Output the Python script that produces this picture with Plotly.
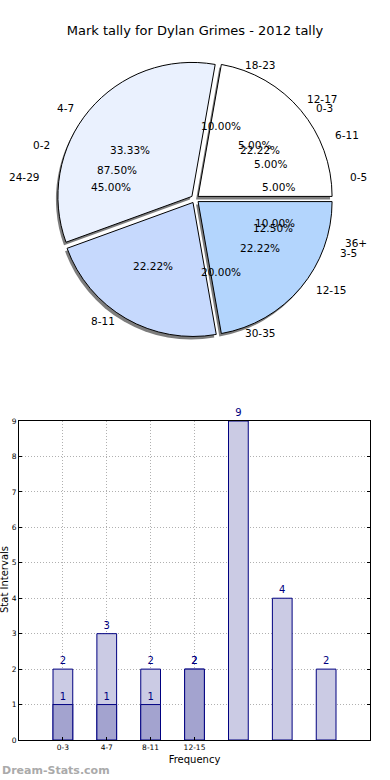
import math
import plotly.graph_objects as go

# ---------------- data ----------------
title_text = "Mark tally for Dylan Grimes - 2012 tally"

pie_a_labels = ["0-3", "4-7", "8-11", "12-15"]
pie_a_values = [2, 3, 2, 2]
pie_a_colors = ["#ffffff", "#eaf1fe", "#c6d9fd", "#b3d5fd"]

pie_b_labels = ["0-2", "3-5"]
pie_b_values = [7, 1]

pie_c_labels = ["0-5", "6-11", "12-17", "18-23", "24-29", "30-35", "36+"]
pie_c_values = [1, 1, 1, 2, 9, 4, 2]

bar_light_values = [2, 3, 2, 2, 9, 4, 2]
bar_dark_values = [1, 1, 1, 2]
bar_tick_labels = ["0-3", "4-7", "8-11", "12-15"]

# ---------------- geometry helpers (pixels in the 390x780 window) ----------------
W, H = 390, 780
FONT = "DejaVu Sans"
cx, cy = 195, 199          # pie centre (px)
rx, ry = 141, 128          # label ellipse radii (px)
pull = 0.03
R = 134
half = R * (1 + pull)


def px(x):
    return x / W


def py(y):
    return 1 - y / H


def mid_angles(values):
    tot = float(sum(values))
    out, acc = [], 0.0
    for v in values:
        a0 = acc / tot * 360
        acc += v
        a1 = acc / tot * 360
        out.append((a0 + a1) / 2)
    return out


def start_rotation(values):
    # plotly counter-clockwise pies end their first slice at `rotation`;
    # make the first slice start at 3 o'clock like matplotlib
    return 90 - 360.0 * values[0] / sum(values)


fig = go.Figure()

pie_dom = dict(x=[px(cx - half), px(cx + half)], y=[py(cy + half), py(cy - half)])
shadow_dom = dict(x=[px(cx - half - 2), px(cx + half - 2)],
                  y=[py(cy + half + 3), py(cy - half + 3)])

# shadow
fig.add_trace(go.Pie(
    labels=pie_a_labels, values=pie_a_values, sort=False, direction="counterclockwise",
    rotation=start_rotation(pie_a_values), pull=[pull] * len(pie_a_values), domain=shadow_dom,
    marker=dict(colors=["rgba(70,70,70,0.7)"] * len(pie_a_values), line=dict(width=0)),
    textinfo="none", hoverinfo="skip", showlegend=False))

# under-lying pies (hidden behind the top pie)
for labs, vals in [(pie_b_labels, pie_b_values), (pie_c_labels, pie_c_values)]:
    fig.add_trace(go.Pie(
        labels=labs, values=vals, sort=False, direction="counterclockwise",
        rotation=start_rotation(vals), domain=pie_dom,
        marker=dict(colors=["rgba(255,255,255,0)"] * len(vals), line=dict(width=0)),
        textinfo="none", showlegend=False))

# top pie
fig.add_trace(go.Pie(
    labels=pie_a_labels, values=pie_a_values, sort=False, direction="counterclockwise",
    rotation=start_rotation(pie_a_values), pull=[pull] * len(pie_a_values), domain=pie_dom,
    marker=dict(colors=pie_a_colors, line=dict(color="#000000", width=1)),
    textinfo="none", showlegend=False))

annotations = []
for labs, vals in [(pie_a_labels, pie_a_values), (pie_b_labels, pie_b_values),
                   (pie_c_labels, pie_c_values)]:
    tot = float(sum(vals))
    for lab, v, m in zip(labs, vals, mid_angles(vals)):
        c, s = math.cos(math.radians(m)), math.sin(math.radians(m))
        lx = cx + 1.1 * rx * c
        ly = cy - 1.1 * ry * s
        annotations.append(dict(
            x=px(lx), y=py(ly), xref="paper", yref="paper", text=lab, showarrow=False,
            xanchor="left" if c > 0 else "right", yanchor="middle",
            font=dict(family=FONT, size=10.5, color="#000000")))
        tx = cx + 0.6 * rx * c
        ty = cy - 0.6 * ry * s
        annotations.append(dict(
            x=px(tx), y=py(ty), xref="paper", yref="paper",
            text="%.2f%%" % (v / tot * 100), showarrow=False,
            xanchor="center", yanchor="middle",
            font=dict(family=FONT, size=10.5, color="#000000")))

# ---------------- bar chart ----------------
navy = "#000080"
fig.add_trace(go.Bar(
    x=list(range(len(bar_light_values))), y=bar_light_values, width=0.45,
    marker=dict(color="#cbcbe4", line=dict(color=navy, width=1)),
    text=[str(v) for v in bar_light_values], textposition="outside",
    textfont=dict(family=FONT, size=10, color=navy), cliponaxis=False,
    xaxis="x", yaxis="y", showlegend=False))
fig.add_trace(go.Bar(
    x=list(range(len(bar_dark_values))), y=bar_dark_values, width=0.45,
    marker=dict(color="#a3a3cf", line=dict(color=navy, width=1)),
    text=[str(v) for v in bar_dark_values], textposition="outside",
    textfont=dict(family=FONT, size=10, color=navy), cliponaxis=False,
    xaxis="x", yaxis="y", showlegend=False))

annotations.append(dict(
    x=px(4), y=py(580), xref="paper", yref="paper", text="Stat Intervals",
    textangle=-90, showarrow=False, xanchor="center", yanchor="middle",
    font=dict(family=FONT, size=10, color="#000000")))
annotations.append(dict(
    x=px(0), y=py(770), xref="paper", yref="paper", text="<b>Dream-Stats.com</b>",
    showarrow=False, xanchor="left", yanchor="middle",
    font=dict(family=FONT, size=11, color="#aaaaaa")))

fig.update_layout(
    width=W, height=H, autosize=False,
    margin=dict(l=0, r=0, t=0, b=0),
    paper_bgcolor="#ffffff", plot_bgcolor="#ffffff",
    barmode="overlay",
    title=dict(text=title_text, x=px(195), xanchor="center", y=py(30), yanchor="middle",
               font=dict(family=FONT, size=13, color="#000000")),
    annotations=annotations,
    xaxis=dict(domain=[px(19), px(370)], range=[-1, 7],
               tickvals=list(range(len(bar_tick_labels))), ticktext=bar_tick_labels,
               tickfont=dict(family=FONT, size=7.5, color="#000000"),
               showgrid=True, gridcolor="#b0b0b0", griddash="1px,2px", gridwidth=1,
               showline=True, linecolor="#000000", linewidth=1, mirror=True,
               ticks="inside", ticklen=3, tickcolor="#000000", zeroline=False,
               title=dict(text="Frequency", standoff=4,
                          font=dict(family=FONT, size=10, color="#000000")),
               automargin=False),
    yaxis=dict(domain=[py(740), py(421)], range=[0, 9], dtick=1, tick0=0,
               tickfont=dict(family=FONT, size=7.5, color="#000000"),
               showgrid=True, gridcolor="#b0b0b0", griddash="1px,2px", gridwidth=1,
               showline=True, linecolor="#000000", linewidth=1, mirror="ticks",
               ticks="inside", ticklen=3, tickcolor="#000000", zeroline=False,
               automargin=False),
)

fig.write_html("out.html",
               config={"displayModeBar": False},
               post_script=("document.body.style.margin='0';"
                            "document.body.style.padding='0';"
                            "document.body.style.overflow='hidden';"))
